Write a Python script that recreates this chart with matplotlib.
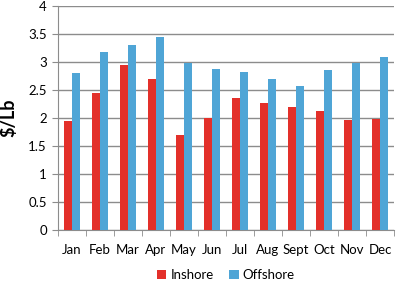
import numpy as np
import matplotlib.pyplot as plt

months = ['Jan', 'Feb', 'Mar', 'Apr', 'May', 'Jun', 'Jul', 'Aug', 'Sept', 'Oct', 'Nov', 'Dec']
inshore = [1.94, 2.44, 2.94, 2.70, 1.70, 2.00, 2.36, 2.26, 2.19, 2.12, 1.97, 1.98]
offshore = [2.80, 3.17, 3.31, 3.45, 2.98, 2.88, 2.83, 2.70, 2.58, 2.86, 2.99, 3.09]

plt.rcParams['font.family'] = ['Lato', 'DejaVu Sans']

fig = plt.figure(figsize=(4, 2.86), dpi=100)
ax = fig.add_axes([0.145, 0.196, 0.84, 0.783])

x = np.arange(len(months))
w = 0.3
ax.bar(x - w / 2, inshore, w, color='#e3302a', label='Inshore', zorder=3)
ax.bar(x + w / 2, offshore, w, color='#4fa5d6', label='Offshore', zorder=3)

ax.set_xlim(-0.5, len(months) - 0.5)
ax.set_ylim(0, 4)
ax.set_yticks(np.arange(0, 4.01, 0.5))
ax.set_yticklabels(['0', '0.5', '1', '1.5', '2', '2.5', '3', '3.5', '4'])
ax.yaxis.grid(True, color='#8c8c8c', linewidth=1, zorder=0)

ax.set_xticks(x)
ax.set_xticklabels(months)
ax.set_xticks(np.arange(-0.5, len(months), 1), minor=True)
ax.tick_params(axis='x', which='major', length=0, pad=10, labelsize=9.5)
ax.tick_params(axis='x', which='minor', length=4, color='#8c8c8c')
ax.tick_params(axis='y', length=4, color='#8c8c8c', labelsize=9.5, pad=4)

for s in ['top', 'right']:
    ax.spines[s].set_visible(False)
for s in ['left', 'bottom']:
    ax.spines[s].set_color('#8c8c8c')

ax.set_ylabel('$/Lb', fontsize=13, fontweight='bold', labelpad=8)

fig.legend(loc='lower center', bbox_to_anchor=(0.565, -0.025), ncol=2, frameon=False,
           fontsize=9.5, handlelength=0.7, handleheight=0.7, handletextpad=0.3,
           columnspacing=1.2)

fig.savefig('out.png', dpi=100)
